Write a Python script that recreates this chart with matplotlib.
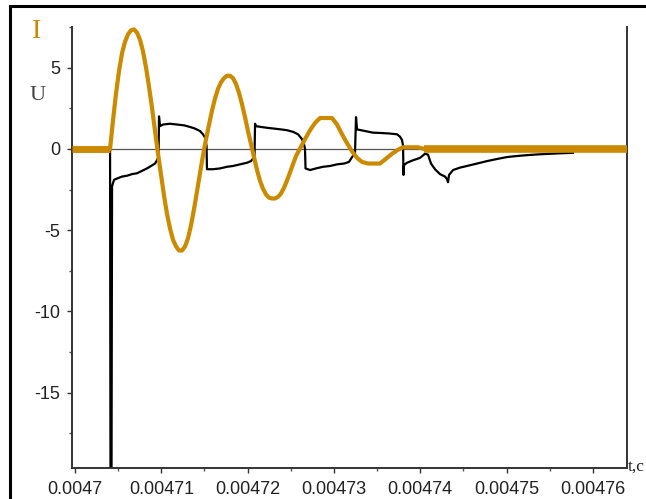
import numpy as np
import matplotlib
matplotlib.use('Agg')
import matplotlib.pyplot as plt
from matplotlib.lines import Line2D

# time in microseconds
t_start = [4699.65, 4704.06]
i_start = [0.0, 0.0]

t_osc = [4704.06, 4704.41, 4704.75, 4705.10, 4705.45, 4705.80, 4706.14, 4706.49, 4706.84,
         4707.19, 4707.54, 4707.88, 4708.23, 4708.58, 4708.93, 4709.27, 4709.62, 4709.97,
         4710.32, 4710.66, 4711.01, 4711.36, 4711.71, 4712.05, 4712.40, 4712.75, 4713.09,
         4713.44, 4713.79, 4714.14, 4714.48, 4714.83, 4715.18, 4715.53, 4715.87, 4716.22,
         4716.57, 4716.92, 4717.26, 4717.61, 4717.96, 4718.31, 4718.65, 4719.00, 4719.35,
         4719.70, 4720.04, 4720.39, 4720.74, 4721.09, 4721.43, 4721.78, 4722.13, 4722.47,
         4722.82, 4723.17, 4723.52, 4723.86, 4724.21, 4724.56, 4724.91, 4725.25, 4725.60,
         4725.95, 4726.30, 4726.65, 4727.23, 4727.81, 4728.39, 4729.78, 4730.36, 4730.94,
         4731.52, 4732.10, 4732.68, 4733.25, 4733.95, 4735.34, 4736.04, 4736.73, 4737.43,
         4738.01, 4739.74, 4740.44]
i_osc = [0.0, 1.8, 3.4, 4.8, 5.9, 6.6, 7.05, 7.3, 7.35,
         7.15, 6.7, 6.0, 5.0, 3.8, 2.5, 1.1, -0.3, -1.6,
         -2.9, -4.0, -4.9, -5.6, -6.0, -6.25, -6.25, -6.0, -5.5,
         -4.7, -3.7, -2.6, -1.5, -0.4, 0.6, 1.5, 2.35, 3.1,
         3.7, 4.1, 4.35, 4.5, 4.5, 4.35, 4.0, 3.45, 2.75,
         1.95, 1.1, 0.3, -0.5, -1.3, -1.95, -2.45, -2.8, -3.0,
         -3.05, -3.05, -2.95, -2.75, -2.4, -1.95, -1.45, -0.95, -0.45,
         -0.1, 0.25, 0.6, 1.15, 1.6, 1.9, 1.9, 1.5, 0.9,
         0.35, -0.15, -0.55, -0.8, -0.9, -0.9, -0.6, -0.3, -0.05,
         0.1, 0.1, 0.0]

t_tail = [4740.44, 4763.96]
i_tail = [0.0, 0.0]

t_u = [4699.65, 4704.06, 4704.11, 4704.23, 4704.29, 4704.52, 4704.98, 4705.45, 4706.03,
       4706.60, 4707.18, 4707.76, 4708.34, 4708.81, 4709.27, 4709.50, 4709.68, 4709.73,
       4709.85, 4710.20, 4711.01, 4711.82, 4712.63, 4713.33, 4713.90, 4714.48, 4714.83,
       4715.06, 4715.24, 4715.29, 4715.99, 4716.80, 4717.61, 4718.31, 4719.12, 4719.93,
       4720.39, 4720.62, 4720.80, 4720.86, 4720.97, 4721.55, 4722.25, 4723.06, 4723.87,
       4724.56, 4725.26, 4725.84, 4726.30, 4726.53, 4726.65, 4726.71, 4727.23, 4727.92,
       4728.74, 4729.55, 4730.36, 4731.17, 4731.75, 4732.10, 4732.44, 4732.56, 4732.68,
       4733.60, 4734.53, 4735.46, 4736.38, 4737.31, 4737.66, 4737.89, 4738.01, 4738.06,
       4738.12, 4738.47, 4739.16, 4739.98, 4740.55, 4740.90, 4741.25, 4741.71, 4742.29,
       4742.87, 4743.10, 4743.22, 4743.34, 4743.80, 4744.61, 4745.42, 4746.58, 4747.74,
       4748.90, 4750.06, 4751.33, 4752.72, 4753.88, 4755.04, 4756.20, 4757.70]
u = [0.0, 0.0, -20.0, -20.0, -2.3, -1.9, -1.8, -1.7, -1.65,
     -1.55, -1.5, -1.35, -1.2, -1.05, -0.9, -0.7, -0.5, 2.0,
     1.4, 1.5, 1.55, 1.5, 1.45, 1.35, 1.25, 1.1, 0.9,
     0.7, 0.2, -1.25, -1.25, -1.2, -1.1, -1.05, -0.95, -0.85,
     -0.75, -0.6, -0.4, 1.55, 1.4, 1.35, 1.3, 1.25, 1.2,
     1.15, 1.05, 0.9, 0.6, 0.3, 0.0, -1.2, -1.3, -1.2,
     -1.1, -1.05, -0.95, -0.9, -0.8, -0.5, -0.3, 1.95, 1.2,
     1.1, 1.0, 0.98, 0.95, 0.9, 0.75, 0.55, 0.2, -1.6,
     -1.0, -0.85, -0.7, -0.55, -0.3, -0.35, -0.9, -1.25, -1.55,
     -1.7, -1.85, -2.05, -1.6, -1.3, -1.15, -1.05, -0.9, -0.75,
     -0.62, -0.5, -0.43, -0.37, -0.33, -0.3, -0.27, -0.24]

xticks = [0.0047, 0.00471, 0.00472, 0.00473, 0.00474, 0.00475, 0.00476]
xticklabels = ['0.0047', '0.00471', '0.00472', '0.00473', '0.00474', '0.00475', '0.00476']
yticks = [-15, -10, -5, 0, 5]
yticklabels = ['-15', '-10', '-5', '0', '5']

W, H = 646, 499
orange = '#cc8a00'

fig = plt.figure(figsize=(W / 100, H / 100), dpi=100)
ax = fig.add_axes([72 / W, 1 - 468 / H, (627 - 72) / W, (468 - 27) / H])

ax.axhline(0, color='#555555', lw=0.9, zorder=1)
ax.plot(np.array(t_u) * 1e-6, u, color='black', lw=1.6, zorder=2)
ax.plot(np.array(t_start) * 1e-6, i_start, color=orange, lw=5, zorder=3, solid_capstyle='butt')
ax.plot(np.array(t_osc) * 1e-6, i_osc, color=orange, lw=3, zorder=3)
ax.plot(np.array(t_tail) * 1e-6, i_tail, color=orange, lw=5.5, zorder=3, solid_capstyle='butt')

ax.set_xlim(4699.65e-6, 4763.96e-6)
ax.set_ylim(-19.63, 7.42)

ax.set_xticks(xticks)
ax.set_xticklabels(xticklabels)
ax.set_xticks([x + 0.000005 for x in xticks[:-1]], minor=True)
ax.set_yticks(yticks)
ax.set_yticklabels(yticklabels)
ax.set_yticks([y + 2.5 for y in [-20] + yticks], minor=True)

for lab in ax.get_xticklabels() + ax.get_yticklabels():
    lab.set_fontfamily('Liberation Sans')
    lab.set_fontsize(13)
    lab.set_color('#222222')

ax.tick_params(axis='both', which='major', direction='out', length=3.5, width=1, color='#333333')
ax.tick_params(axis='both', which='minor', direction='out', length=2.5, width=1, color='#555555')
ax.tick_params(axis='x', which='major', pad=5.5)
ax.tick_params(axis='y', which='major', pad=5)

ax.spines['top'].set_visible(False)
for s in ['left', 'bottom', 'right']:
    ax.spines[s].set_linewidth(1.4)
    ax.spines[s].set_color('#333333')

fig.text(37 / W, 1 - 32 / H, 'I', color=orange, fontsize=20, family='Liberation Serif',
         ha='center', va='center')
fig.text(38 / W, 1 - 96 / H, 'U', color='#444444', fontsize=16, family='Liberation Serif',
         ha='center', va='center')
fig.text(628 / W, 1 - 467 / H, 't,c', color='#222222', fontsize=12.5, family='Liberation Serif',
         ha='left', va='center')

# outer frame of the scanned picture
fig.add_artist(Line2D([10 / W, 10 / W], [0, 1 - 6 / H], transform=fig.transFigure, color='black', lw=2.2))
fig.add_artist(Line2D([10 / W, 1], [1 - 6 / H, 1 - 6 / H], transform=fig.transFigure, color='black', lw=2.2))

fig.savefig('out.png', dpi=100)
